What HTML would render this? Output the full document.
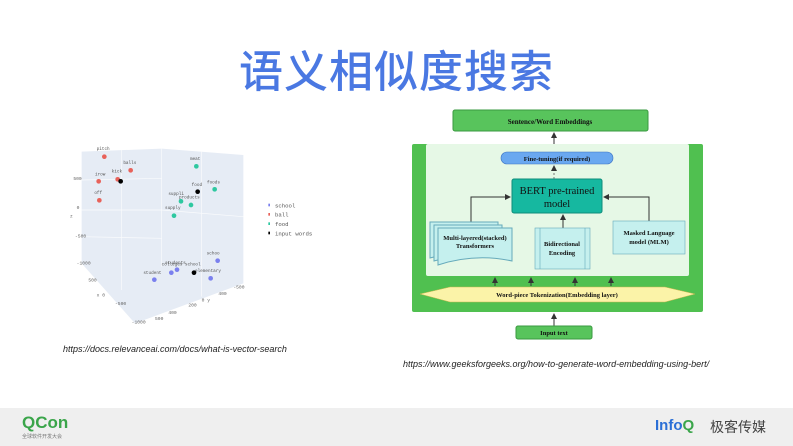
<!DOCTYPE html>
<html><head><meta charset="utf-8"><style>
body{margin:0;width:793px;height:446px;background:#fff;position:relative;overflow:hidden;font-family:"Liberation Sans","Noto Sans CJK SC",sans-serif}
.t{position:absolute;left:0;width:793px;top:36px;text-align:center;font-size:44px;color:#4a78e2;font-weight:500;letter-spacing:1px;font-family:"Noto Sans CJK SC",sans-serif}
.cap{position:absolute;font-size:9px;font-style:italic;color:#222}
.foot{position:absolute;left:0;top:408px;width:793px;height:38px;background:#efefef}
</style></head><body>
<div class="t">语义相似度搜索</div>
<svg style="position:absolute;left:0;top:0" width="793" height="446">
<g transform="translate(55 110) scale(0.33333)" font-family="Liberation Mono,monospace" fill="#555">
<polygon points="80,125 320,116 565,135 565,520 240,640 80,460" fill="#e6ecf5"/>
<g stroke="#fff" stroke-width="2" fill="none" opacity="0.8">
<line x1="320" y1="116" x2="320" y2="470"/><line x1="80" y1="300" x2="320" y2="300"/><line x1="320" y1="300" x2="565" y2="320"/>
<line x1="80" y1="210" x2="320" y2="205"/><line x1="80" y1="380" x2="320" y2="385"/><line x1="200" y1="120" x2="200" y2="540"/><line x1="440" y1="125" x2="440" y2="560"/>
</g>
<g font-size="14" fill="#666">
<text x="55" y="210">500</text><text x="65" y="297">0</text><text x="45" y="322">z</text><text x="60" y="383">-500</text><text x="65" y="463">-1000</text>
<text x="100" y="515">500</text><text x="125" y="560">x 0</text><text x="180" y="585">-500</text><text x="230" y="640">-1000</text>
<text x="300" y="630">500</text><text x="340" y="612">400</text><text x="400" y="590">200</text><text x="440" y="575">0 y</text><text x="490" y="555">400</text><text x="535" y="535">-500</text>
</g>
<g font-size="13" fill="#555">
<text x="125" y="120">pitch</text><text x="205" y="162">balls</text><text x="120" y="197">irow</text><text x="170" y="187">kick</text><text x="118" y="252">off</text>
<text x="405" y="150">meat</text><text x="410" y="228">food</text><text x="456" y="220">foods</text><text x="340" y="255">suppli</text><text x="372" y="265">products</text><text x="330" y="297">supply</text>
<text x="455" y="434">schoo</text><text x="330" y="462">students</text><text x="320" y="467">colleges school</text><text x="420" y="486">elementary</text><text x="265" y="492">student</text>
</g>
<g fill="#e8625a"><circle cx="148" cy="140" r="7"/><circle cx="227" cy="181" r="7"/><circle cx="131" cy="214" r="7"/><circle cx="188" cy="208" r="7"/><circle cx="133" cy="271" r="7"/></g>
<g fill="#2ec8a0"><circle cx="424" cy="169" r="7"/><circle cx="479" cy="238" r="7"/><circle cx="378" cy="274" r="7"/><circle cx="408" cy="285" r="7"/><circle cx="357" cy="317" r="7"/></g>
<g fill="#7a80ee"><circle cx="488" cy="452" r="7"/><circle cx="366" cy="479" r="7"/><circle cx="349" cy="488" r="7"/><circle cx="467" cy="505" r="7"/><circle cx="298" cy="509" r="7"/></g>
<g fill="#000"><circle cx="197" cy="214" r="7"/><circle cx="428" cy="245" r="7"/><circle cx="417" cy="488" r="7"/></g>
<g font-size="17" fill="#555"><text x="660" y="293">school</text><text x="660" y="320">ball</text><text x="660" y="348">food</text><text x="660" y="376">input words</text></g>
<rect x="640" y="281" width="5" height="8" fill="#7a80ee"/><rect x="640" y="309" width="5" height="8" fill="#e8625a"/><rect x="640" y="337" width="5" height="8" fill="#2ec8a0"/><rect x="640" y="365" width="5" height="8" fill="#000"/>
</g>
<defs><marker id="a" markerWidth="6" markerHeight="6" refX="5" refY="3" orient="auto"><path d="M0,0L6,3L0,6z" fill="#333"/></marker></defs>
<g font-family="Liberation Serif,serif" font-weight="bold" fill="#111" text-anchor="middle">
<rect x="453" y="110" width="195" height="21" rx="2" fill="#58c45c" stroke="#3a9a40"/>
<text x="550" y="124" font-size="7">Sentence/Word Embeddings</text>
<rect x="412" y="144" width="291" height="168" rx="2" fill="#50c050"/>
<rect x="426" y="144" width="263" height="132" rx="2" fill="#e6f8e6"/>
<line x1="554" y1="144" x2="554" y2="133" stroke="#333" marker-end="url(#a)"/>
<rect x="501" y="152" width="112" height="12" rx="6" fill="#6aa8f0" stroke="#3a70c0" stroke-width="0.6"/>
<text x="557" y="161" font-size="6.5">Fine-tuning(if required)</text>
<line x1="554" y1="179" x2="554" y2="166" stroke="#777" stroke-dasharray="2 2" marker-end="url(#a)"/>
<rect x="512" y="179" width="90" height="34" rx="2" fill="#16b8a0" stroke="#0f8c7a"/>
<text x="557" y="194" font-size="10.5" font-weight="normal">BERT pre-trained</text><text x="557" y="207" font-size="10.5" font-weight="normal">model</text>
<polyline points="471,222 471,197 510,197" fill="none" stroke="#333" marker-end="url(#a)"/>
<polyline points="649,221 649,197 604,197" fill="none" stroke="#333" marker-end="url(#a)"/>
<line x1="563" y1="228" x2="563" y2="215" stroke="#333" marker-end="url(#a)"/>
<path d="M430,222h68v32q-34,-6 -68,4z" fill="#c5f0ee" stroke="#6ab"/>
<path d="M434,225h68v32q-34,-6 -68,4z" fill="#c5f0ee" stroke="#6ab"/>
<path d="M438,228h74v33q-37,-8 -74,4z" fill="#c5f0ee" stroke="#6ab"/>
<text x="475" y="240" font-size="6.5">Multi-layered(stacked)</text><text x="475" y="248" font-size="6.5">Transformers</text>
<rect x="535" y="228" width="55" height="41" fill="#c5f0ee" stroke="#6ab" stroke-width="0.6"/>
<line x1="540" y1="228" x2="540" y2="269" stroke="#6ab" stroke-width="0.6"/><line x1="585" y1="228" x2="585" y2="269" stroke="#6ab" stroke-width="0.6"/>
<text x="562" y="246" font-size="6.5">Bidirectional</text><text x="562" y="255" font-size="6.5">Encoding</text>
<rect x="613" y="221" width="72" height="33" fill="#c5f0ee" stroke="#6ab" stroke-width="0.6"/>
<text x="649" y="235" font-size="6.5">Masked Language</text><text x="649" y="244" font-size="6.5">model (MLM)</text>
<g stroke="#333"><line x1="495" y1="286" x2="495" y2="278" marker-end="url(#a)"/><line x1="531" y1="286" x2="531" y2="278" marker-end="url(#a)"/><line x1="575" y1="286" x2="575" y2="278" marker-end="url(#a)"/><line x1="611" y1="286" x2="611" y2="278" marker-end="url(#a)"/>
<line x1="554" y1="326" x2="554" y2="314" marker-end="url(#a)"/></g>
<polygon points="420,294 450,287 665,287 695,294 665,302 450,302" fill="#fbf3a8" stroke="#c8b850" stroke-width="0.5"/>
<text x="557" y="297" font-size="6.5">Word-piece Tokenization(Embedding layer)</text>
<rect x="516" y="326" width="76" height="13" rx="2" fill="#58c45c" stroke="#3a9a40"/>
<text x="554" y="335" font-size="6.5">Input text</text>
</g>
</svg>
<div class="cap" style="left:63px;top:344px">https://docs.relevanceai.com/docs/what-is-vector-search</div>
<div class="cap" style="left:403px;top:359px">https://www.geeksforgeeks.org/how-to-generate-word-embedding-using-bert/</div>
<div class="foot">
<div style="position:absolute;left:22px;top:5px;font-size:17px;font-weight:bold;color:#3aa54a">QCon</div>
<div style="position:absolute;left:22px;top:25px;font-size:5px;color:#777;font-family:'Noto Sans CJK SC',sans-serif">全球软件开发大会</div>
<div style="position:absolute;left:655px;top:9px;font-size:15px;font-weight:bold;color:#2b6fd6">Info<span style="color:#3aa54a">Q</span></div>
<div style="position:absolute;left:710px;top:9px;font-size:14px;color:#444;font-family:'Noto Sans CJK SC',sans-serif">极客传媒</div>
</div>
</body></html>
